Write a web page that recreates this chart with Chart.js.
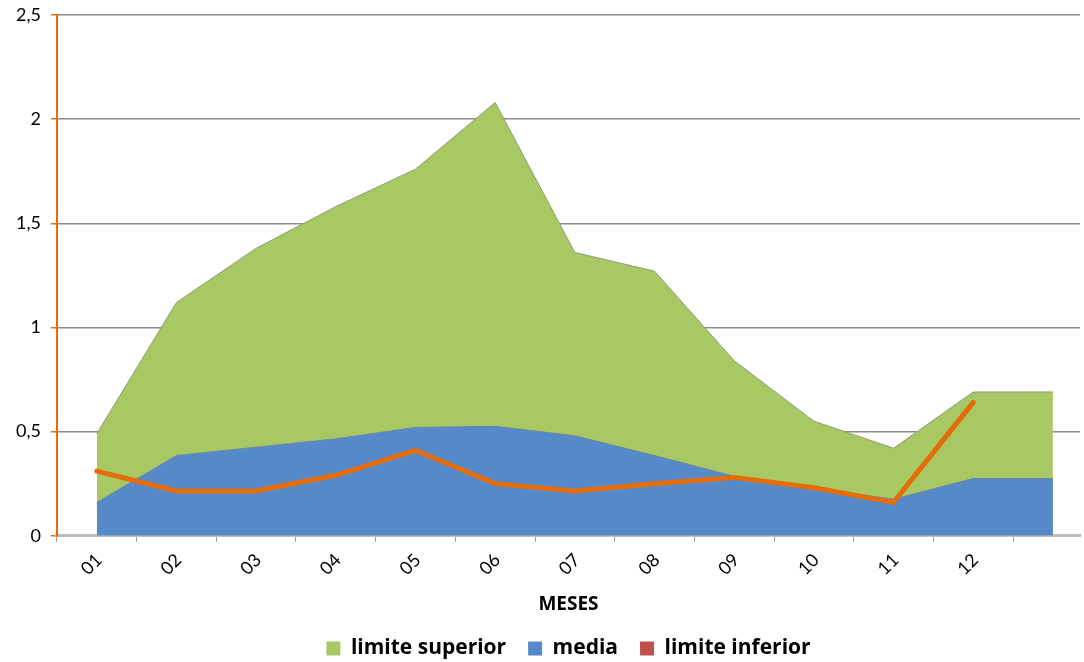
<!DOCTYPE html>
<html>
<head>
<meta charset="utf-8">
<script src="https://cdn.jsdelivr.net/npm/chart.js@4"></script>
<style>
  body { margin: 0; background: #fff; }
  #wrap { width: 1084px; height: 662px; }
</style>
</head>
<body>
<div id="wrap"><canvas id="grafico" width="1084" height="662"></canvas></div>
<script>
const meses = ['01', '02', '03', '04', '05', '06', '07', '08', '09', '10', '11', '12'];
// the area series carry one more point than the months (flat tail at the right edge)
const limiteSuperior = [0.49, 1.12, 1.38, 1.58, 1.76, 2.08, 1.36, 1.27, 0.84, 0.55, 0.42, 0.69, 0.69];
const media = [0.16, 0.385, 0.425, 0.465, 0.52, 0.525, 0.48, 0.385, 0.285, 0.23, 0.175, 0.275, 0.275];
const limiteInferior = [0.31, 0.215, 0.215, 0.29, 0.41, 0.25, 0.215, 0.25, 0.28, 0.23, 0.16, 0.64];
const yTicks = [0, 0.5, 1, 1.5, 2, 2.5];

const toPoints = arr => arr.map((v, i) => ({ x: i + 1, y: v }));

const ctx = document.getElementById('grafico');

const chart = new Chart(ctx, {
  type: 'line',
  data: {
    datasets: [
      {
        label: 'limite superior',
        data: toPoints(limiteSuperior),
        fill: 'origin',
        backgroundColor: '#A8C864',
        borderColor: '#8C9C74',
        borderWidth: 1,
        pointRadius: 0,
        order: 3
      },
      {
        label: 'media',
        data: toPoints(media),
        fill: 'origin',
        backgroundColor: '#5689C9',
        borderColor: '#6D86A6',
        borderWidth: 1,
        pointRadius: 0,
        order: 2
      },
      {
        label: 'limite inferior',
        data: toPoints(limiteInferior),
        fill: false,
        borderColor: '#E46C0A',
        backgroundColor: '#C0504D',
        borderWidth: 5,
        borderCapStyle: 'round',
        pointRadius: 0,
        order: 1
      }
    ]
  },
  options: {
    responsive: false,
    animation: false,
    layout: { padding: { top: 15, right: 4, left: 6, bottom: -7 } },
    plugins: {
      tooltip: { enabled: false },
      legend: {
        position: 'bottom',
        fullSize: false,
        labels: {
          color: '#000',
          font: { family: 'Open Sans', size: 21, weight: 'bold' },
          boxWidth: 14,
          boxHeight: 14,
          padding: 22,
          sort: (a, b) => a.datasetIndex - b.datasetIndex,
          generateLabels: function (c) {
            const items = Chart.defaults.plugins.legend.labels.generateLabels(c);
            items.forEach(it => {
              const ds = c.data.datasets[it.datasetIndex];
              it.fillStyle = ds.backgroundColor;
              it.strokeStyle = ds.backgroundColor;
              it.lineWidth = 0;
            });
            return items;
          }
        }
      }
    },
    scales: {
      x: {
        type: 'linear',
        min: 0.5,
        max: 13.34,
        afterBuildTicks: function (scale) {
          scale.ticks = meses.concat(['']).map((m, i) => ({ value: i + 0.5 }));
        },
        ticks: {
          autoSkip: false,
          minRotation: 45,
          maxRotation: 45,
          labelOffset: 42,
          padding: 9,
          color: '#000',
          font: { family: 'Lato', size: 18, lineHeight: 1 },
          callback: (v, i) => meses[i] || ''
        },
        grid: {
          drawOnChartArea: false,
          drawTicks: true,
          tickLength: 6,
          color: '#9A9A9A'
        },
        border: { color: '#BDBDBD', width: 3 },
        title: {
          display: true,
          text: 'MESES',
          color: '#000',
          font: { family: 'Open Sans', size: 19, weight: 'bold' },
          padding: { top: 6, bottom: 0 }
        }
      },
      y: {
        min: 0,
        max: 2.5,
        afterBuildTicks: function (scale) {
          scale.ticks = yTicks.map(v => ({ value: v }));
        },
        afterFit: function (scale) {
          scale.paddingTop = 0;
        },
        ticks: {
          color: '#000',
          font: { family: 'Lato', size: 18 },
          padding: 10,
          callback: v => String(v).replace('.', ',')
        },
        grid: {
          color: '#8A8A8A',
          lineWidth: 1.5,
          tickColor: '#E46C0A',
          tickLength: 6
        },
        border: { color: '#E46C0A', width: 2 }
      }
    }
  }
});
</script>
</body>
</html>
